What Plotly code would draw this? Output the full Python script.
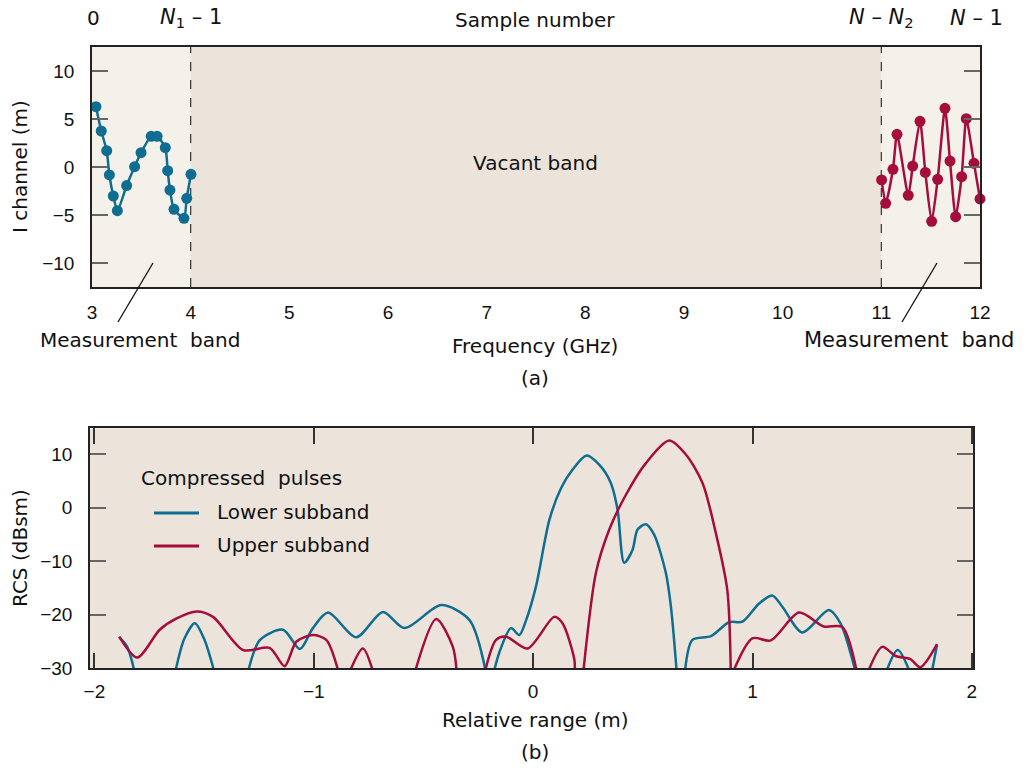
import plotly.graph_objects as go

# ---- Panel (a): I-channel samples in the two measurement bands ----
lower_freq = [3.04, 3.094, 3.149, 3.176, 3.216, 3.257, 3.351, 3.432, 3.497, 3.60, 3.66,
              3.743, 3.767, 3.79, 3.831, 3.932, 3.96, 4.003]
lower_i = [6.28, 3.75, 1.70, -0.83, -3.02, -4.55, -1.94, 0.03, 1.49, 3.2, 3.2,
           2.01, -0.38, -2.40, -4.41, -5.35, -3.26, -0.76]

upper_freq = [11.003, 11.044, 11.118, 11.159, 11.273, 11.318, 11.392, 11.446, 11.51,
              11.571, 11.645, 11.696, 11.753, 11.814, 11.861, 11.939, 12.0]
upper_i = [-1.35, -3.78, -0.24, 3.40, -2.95, 0.10, 4.76, -0.56, -5.66,
           -1.28, 6.11, 0.62, -5.17, -1.01, 5.03, 0.38, -3.33]

freq_ticks = [3, 4, 5, 6, 7, 8, 9, 10, 11, 12]
ichan_ticks = [-10, -5, 0, 5, 10]

# ---- Panel (b): compressed pulses (None separates pieces below the floor) ----
lower_range = [-1.887, -1.85, -1.815, None,
               -1.633, -1.59, -1.542, -1.50, -1.451, None,
               -1.302, -1.245, -1.14, -1.063, -1.004, -0.935, -0.806, -0.685, -0.586,
               -0.419, -0.29, -0.214, None,
               -0.181, -0.153, -0.101, -0.063, -0.032, 0.013, 0.074, 0.127, 0.18, 0.244,
               0.301, 0.354, 0.385, 0.415, 0.453, 0.476, 0.514, 0.552, 0.605, 0.628, 0.655, None,
               0.691, 0.726, 0.81, 0.893, 0.954, 1.03, 1.09, 1.136, 1.227, 1.348, 1.401,
               1.472, None,
               1.606, 1.662, 1.72, None,
               1.816, 1.841]
lower_rcs = [-24.2, -26.0, -31, None,
             -31, -24.5, -21.6, -24.5, -31, None,
             -31, -24.7, -22.8, -26.4, -22.5, -19.6, -24.2, -19.5, -22.5,
             -18.2, -21.0, -31, None,
             -31, -26.9, -22.5, -23.8, -21.0, -14.7, -2.3, 3.6, 7.1, 9.7,
             8.0, 4.6, -0.4, -10.3, -7.9, -4.1, -3.1, -5.1, -12.2, -18.5, -31, None,
             -31, -24.7, -24.0, -21.4, -21.3, -17.9, -16.4, -18.5, -23.3, -19.1, -21.6,
             -31, None,
             -31, -26.6, -31, None,
             -31, -25.6]

upper_range = [-1.887, -1.805, -1.702, -1.625, -1.534, -1.459, -1.322, -1.201, -1.133,
               -1.079, -1.004, -0.943, -0.885, None,
               -0.84, -0.776, -0.727, None,
               -0.541, -0.442, -0.366, -0.348, None,
               -0.222, -0.169, -0.123, -0.025, 0.096, 0.134, 0.188, 0.189, None,
               0.228, 0.286, 0.347, 0.423, 0.514, 0.62, 0.696, 0.772, 0.833, 0.885, 0.901, None,
               0.908, 0.999, 1.083, 1.212, 1.325, 1.409, 1.477, None,
               1.523, 1.591, 1.652, 1.72, 1.765, 1.841]
upper_rcs = [-24.1, -28.0, -22.8, -20.7, -19.4, -20.4, -26.6, -26.2, -29.6,
             -25.0, -23.8, -24.7, -31, None,
             -31, -26.3, -31, None,
             -31, -20.8, -26.0, -31, None,
             -31, -24.7, -24.1, -26.3, -20.4, -21.6, -28.4, -31, None,
             -31, -12.2, -4.1, 2.4, 8.3, 12.5, 9.9, 4.6, -4.8, -15.4, -31, None,
             -31, -24.4, -24.8, -19.6, -22.2, -22.3, -31, None,
             -31, -26.0, -27.7, -28.3, -29.8, -25.5]

range_ticks = [-2, -1, 0, 1, 2]
rcs_ticks = [-30, -20, -10, 0, 10]

BLUE = "#0E6D90"
RED = "#A50D3C"
LIGHT_BG = "#F4F1EB"
DARK_BG = "#ECE4DB"
TICK_FONT = dict(family="Liberation Sans, Arial, sans-serif", size=19, color="#111")
TEXT_FONT = "DejaVu Sans, sans-serif"
W, H = 1029, 768


def px_x(v):
    return v / W


def px_y(v):
    return 1 - v / H


def signed(ticks):
    return [("−" + str(-t)) if t < 0 else str(t) for t in ticks]


fig = go.Figure()

fig.add_trace(go.Scatter(
    x=lower_freq, y=lower_i, mode="lines+markers", xaxis="x", yaxis="y",
    line=dict(color=BLUE, width=2.5, shape="spline", smoothing=0.6),
    marker=dict(color=BLUE, size=11), cliponaxis=False, showlegend=False))
fig.add_trace(go.Scatter(
    x=upper_freq, y=upper_i, mode="lines+markers", xaxis="x", yaxis="y",
    line=dict(color=RED, width=2.5, shape="spline", smoothing=0.6),
    marker=dict(color=RED, size=11), cliponaxis=False, showlegend=False))

fig.add_trace(go.Scatter(
    x=lower_range, y=lower_rcs, mode="lines", xaxis="x2", yaxis="y2",
    line=dict(color=BLUE, width=2.5, shape="spline", smoothing=0.8),
    connectgaps=False, name="Lower subband", showlegend=False))
fig.add_trace(go.Scatter(
    x=upper_range, y=upper_rcs, mode="lines", xaxis="x2", yaxis="y2",
    line=dict(color=RED, width=2.5, shape="spline", smoothing=0.8),
    connectgaps=False, name="Upper subband", showlegend=False))

frame = dict(showline=True, linecolor="#222", linewidth=1.5,
             showgrid=False, zeroline=False, tickfont=TICK_FONT, automargin=False)

fig.update_layout(
    width=W, height=H,
    margin=dict(l=0, r=0, t=0, b=0),
    paper_bgcolor="white",
    plot_bgcolor="rgba(0,0,0,0)",
    xaxis=dict(domain=[px_x(92), px_x(980)], range=[3, 12], tickvals=freq_ticks,
               ticks="", ticklabelstandoff=7, anchor="y", mirror=True, **frame),
    yaxis=dict(domain=[px_y(287), px_y(47)], range=[-12.5, 12.5], tickvals=ichan_ticks,
               ticktext=signed(ichan_ticks),
               ticks="inside", ticklen=16, tickcolor="#666", tickwidth=1.5,
               ticklabelstandoff=12, anchor="x", mirror="ticks", **frame),
    xaxis2=dict(domain=[px_x(90), px_x(973)], range=[-2.02, 2.005], tickvals=range_ticks,
                ticktext=signed(range_ticks),
                ticks="inside", ticklen=16, tickcolor="#333", tickwidth=1.5,
                ticklabelstandoff=5, anchor="y2", mirror="ticks", **frame),
    yaxis2=dict(domain=[px_y(668.3), px_y(428.3)], range=[-30, 14.8], tickvals=rcs_ticks,
                ticktext=signed(rcs_ticks),
                ticks="inside", ticklen=16, tickcolor="#666", tickwidth=1.5,
                ticklabelstandoff=12, anchor="x2", mirror="ticks", **frame),
)

shapes = [
    # band backgrounds of panel (a)
    dict(type="rect", xref="x", yref="y domain", x0=3, x1=4, y0=0, y1=1,
         fillcolor=LIGHT_BG, line_width=0, layer="below"),
    dict(type="rect", xref="x", yref="y domain", x0=4, x1=11, y0=0, y1=1,
         fillcolor=DARK_BG, line_width=0, layer="below"),
    dict(type="rect", xref="x", yref="y domain", x0=11, x1=12, y0=0, y1=1,
         fillcolor=LIGHT_BG, line_width=0, layer="below"),
    dict(type="line", xref="x", yref="y domain", x0=4, x1=4, y0=0, y1=1,
         line=dict(color="#333", width=1.2, dash="dash"), layer="below"),
    dict(type="line", xref="x", yref="y domain", x0=11, x1=11, y0=0, y1=1,
         line=dict(color="#333", width=1.2, dash="dash"), layer="below"),
    # panel (b) background
    dict(type="rect", xref="x2 domain", yref="y2 domain", x0=0, x1=1, y0=0, y1=1,
         fillcolor=DARK_BG, line_width=0, layer="below"),
    # leader lines to the band labels
    dict(type="line", xref="paper", yref="paper", x0=px_x(153), y0=px_y(263),
         x1=px_x(118), y1=px_y(322), line=dict(color="#111", width=1.3)),
    dict(type="line", xref="paper", yref="paper", x0=px_x(937), y0=px_y(263),
         x1=px_x(902), y1=px_y(322), line=dict(color="#111", width=1.3)),
    # key swatches
    dict(type="line", xref="paper", yref="paper", x0=px_x(154), x1=px_x(199),
         y0=px_y(513), y1=px_y(513), line=dict(color=BLUE, width=3)),
    dict(type="line", xref="paper", yref="paper", x0=px_x(154), x1=px_x(199),
         y0=px_y(546), y1=px_y(546), line=dict(color=RED, width=3)),
]
fig.update_layout(shapes=shapes)


def label(text, x, y, size=20, xanchor="center", angle=0, family=TEXT_FONT):
    return dict(text=text, x=px_x(x), y=px_y(y), xref="paper", yref="paper",
                xanchor=xanchor, yanchor="middle", showarrow=False, textangle=angle,
                font=dict(family=family, size=size, color="#111"))


annotations = [
    label("0", 93, 18, size=20),
    label("<i>N</i><sub>1</sub> – 1", 191, 18, size=21),
    label("Sample number", 535, 20),
    label("<i>N</i> – <i>N</i><sub>2</sub>", 881, 18, size=21),
    label("<i>N</i> – 1", 976, 18, size=21),
    label("Vacant band", 535, 163),
    label("Measurement  band", 140, 340),
    label("Measurement  band", 909, 340, size=21),
    label("Frequency (GHz)", 535, 346),
    label("(a)", 535, 378),
    label("I channel (m)", 20, 167, angle=-90),
    label("RCS (dBsm)", 20, 548, angle=-90),
    label("Relative range (m)", 535, 720),
    label("(b)", 535, 752),
    label("Compressed  pulses", 139, 478, xanchor="left"),
    label("Lower subband", 215, 512, xanchor="left"),
    label("Upper subband", 215, 545, xanchor="left"),
]
fig.update_layout(annotations=annotations)

fig.write_html("out.html")
